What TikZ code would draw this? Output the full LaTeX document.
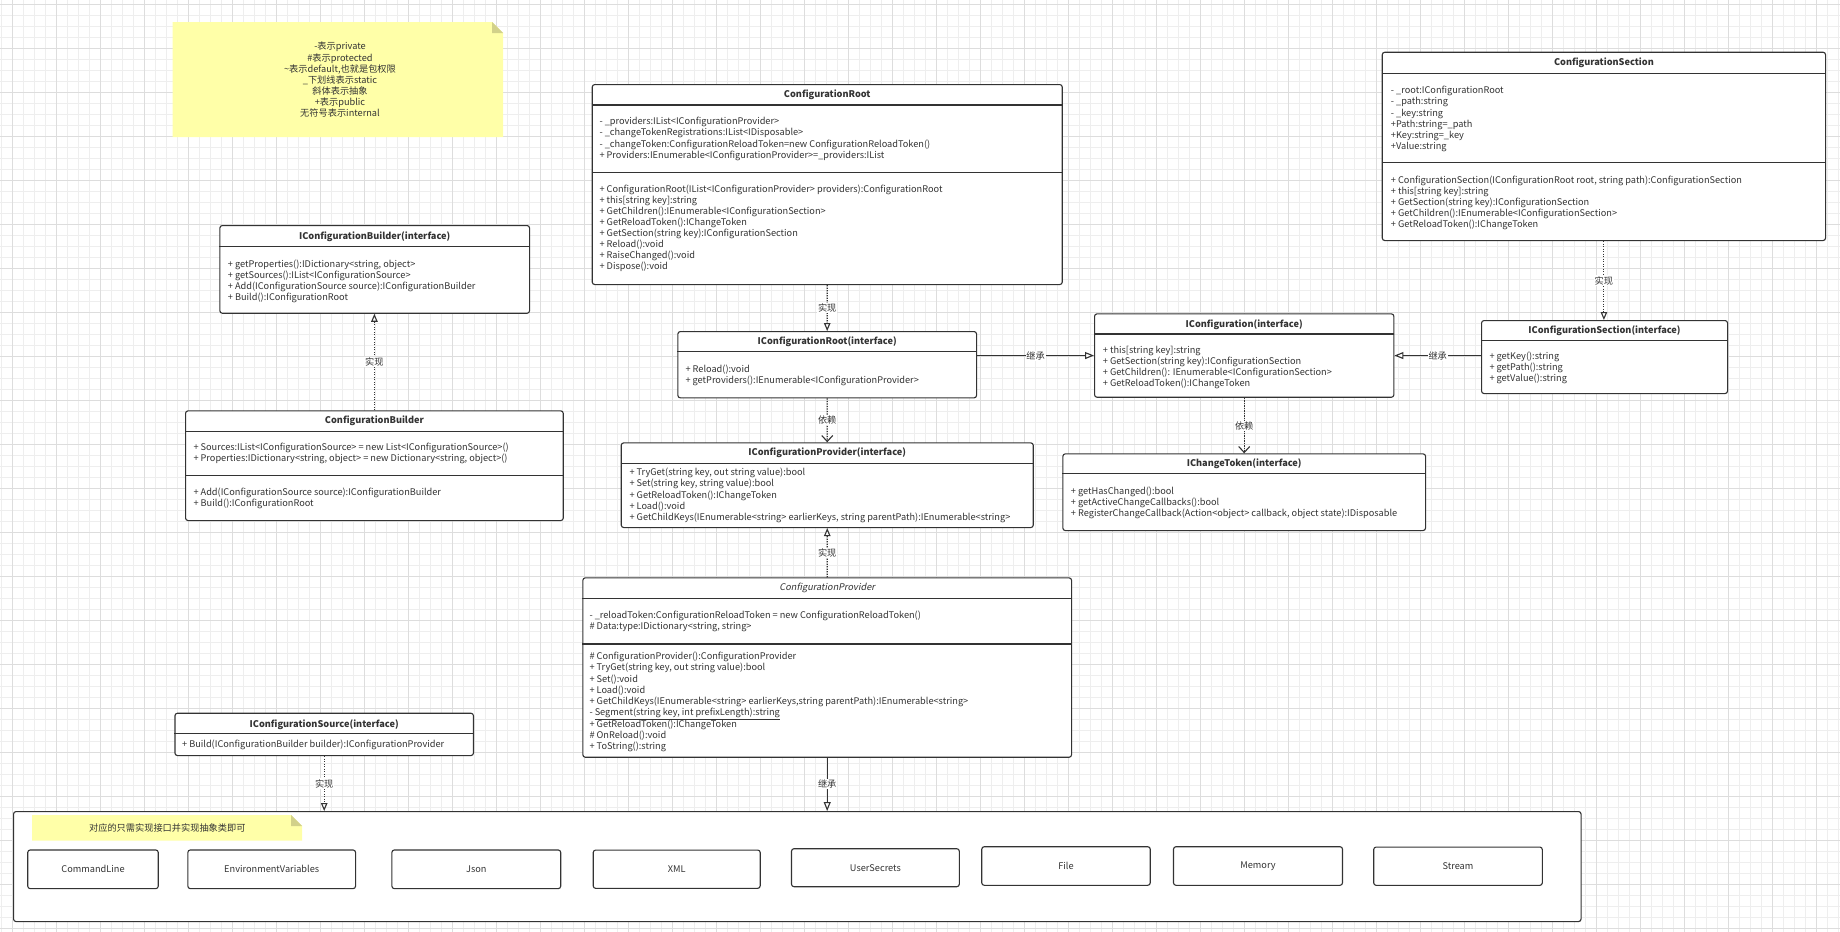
\documentclass[tikz,border=0pt]{standalone}
\usepackage{fontspec}
\setmainfont{Noto Sans CJK SC}[ItalicFont={Noto Sans CJK SC},ItalicFeatures={FakeSlant=0.2}]
\usetikzlibrary{arrows.meta,calc}
\definecolor{linec}{HTML}{333333}
\definecolor{txtc}{HTML}{333333}
\definecolor{notey}{HTML}{FFFFA8}
\definecolor{notef}{HTML}{D2D18A}
\definecolor{gridmin}{HTML}{EEEEEE}
\definecolor{gridmaj}{HTML}{DDDDDD}
\tikzset{
  box/.style={draw=linec, line width=1.1pt, rounded corners=2.5pt, fill=white, inner sep=0pt, anchor=north west},
  sepl/.style={draw=linec, line width=1.1pt},
  ttl/.style={anchor=base, inner sep=0pt, font=\fontsize{9.2}{11.1}\selectfont\bfseries, text=txtc},
  txt/.style={anchor=north west, inner sep=0pt, font=\fontsize{9.2}{11.1}\selectfont, text=txtc},
  lbl/.style={fill=white, inner sep=0.8pt, font=\fontsize{9.2}{11}\selectfont, text=txtc},
  conn/.style={draw=linec, line width=1.1pt},
  real/.style={conn, dash pattern=on 1.2pt off 1.3pt, -{Triangle[length=8pt, width=6.5pt, fill=white]}},
  dep/.style={conn, dash pattern=on 1.2pt off 1.3pt, -{Straight Barb[length=6pt, width=11pt]}},
  inh/.style={conn, -{Triangle[length=9pt, width=7pt, fill=white]}},
  ibox/.style={draw=linec, line width=1.1pt, rounded corners=2.5pt, fill=white, inner sep=0pt, font=\fontsize{9.2}{11}\selectfont, text=txtc},
  notetxt/.style={anchor=north, inner sep=0pt, font=\fontsize{9.2}{11.17}\selectfont, text=txtc},
}
\newcommand\umlbox[5]{\node[box, minimum width={(#4)-(#2)}, minimum height={(#5)-(#3)}] (#1) at (#2,#3) {};}
\newcommand\usep[2]{\draw[sepl] (#1.west |- 0,#2) -- (#1.east |- 0,#2);}
\newcommand\utitle[3]{\node[ttl] (#1-t) at (#1.center |- 0,{#2+3}) {#3};}
\newcommand\ulines[4]{\node[txt] (#1) at ({#2},{#3-4.8}) {\begin{tabular}{@{}l@{}}#4\end{tabular}};}
\begin{document}
\begin{tikzpicture}[x=1pt, y=-1pt]
\useasboundingbox (0,0) rectangle (1840,932);
\fill[white] (0,0) rectangle (1840,932);
% grid
\foreach \i in {0,...,167} \draw[gridmin, line width=0.8pt] ({1.5+11*\i},0) -- ({1.5+11*\i},932);
\foreach \i in {0,...,84} \draw[gridmin, line width=0.8pt] (0,{4+11*\i}) -- (1840,{4+11*\i});
\foreach \i in {0,...,41} \draw[gridmaj, line width=0.9pt] ({12.5+44*\i},0) -- ({12.5+44*\i},932);
\foreach \i in {0,...,21} \draw[gridmaj, line width=0.9pt] (0,{4+44*\i}) -- (1840,{4+44*\i});

% legend note
\fill[notey] (172.7,22) -- (492,22) -- (503,33) -- (503,137) -- (172.7,137) -- cycle;
\fill[notef] (492,22) -- (492,33) -- (503,33) -- cycle;
\node[notetxt] (legend) at (340,{46.7-4.8}) {\begin{tabular}{@{}c@{}}-表示private\\ \#表示protected\\ \textasciitilde 表示default,也就是包权限\\ \_下划线表示static\\ 斜体表示抽象\\ +表示public\\ 无符号表示internal\end{tabular}};

% IConfigurationBuilder
\umlbox{icb}{219.3}{225}{529}{312.7}
\usep{icb}{246.7}
\utitle{icb}{236}{IConfigurationBuilder(interface)}
\ulines{icb-m}{227.7}{264}{+ getProperties():IDictionary<string, object>\\ + getSources():IList<IConfigurationSource>\\ + Add(IConfigurationSource source):IConfigurationBuilder\\ + Build():IConfigurationRoot}

% ConfigurationBuilder
\umlbox{cb}{185}{410.3}{562.7}{520}
\usep{cb}{431.7}
\usep{cb}{475.7}
\utitle{cb}{420.7}{ConfigurationBuilder}
\ulines{cb-a}{193.3}{447.3}{+ Sources:IList<IConfigurationSource> = new List<IConfigurationSource>()\\ + Properties:IDictionary<string, object> = new Dictionary<string, object>()}
\ulines{cb-m}{193.3}{492.7}{+ Add(IConfigurationSource source):IConfigurationBuilder\\ + Build():IConfigurationRoot}

% ConfigurationRoot
\umlbox{cr}{591.7}{84}{1061.7}{284}
\usep{cr}{105}
\usep{cr}{172.7}
\utitle{cr}{94}{ConfigurationRoot}
\ulines{cr-a}{599.3}{121.7}{- \_providers:IList<IConfigurationProvider>\\ - \_changeTokenRegistrations:IList<IDisposable>\\ - \_changeToken:ConfigurationReloadToken=new ConfigurationReloadToken()\\ + Providers:IEnumerable<IConfigurationProvider>=\_providers:IList}
\ulines{cr-m}{599.3}{189}{+ ConfigurationRoot(IList<IConfigurationProvider> providers):ConfigurationRoot\\ + this[string key]:string\\ + GetChildren():IEnumerable<IConfigurationSection>\\ + GetReloadToken():IChangeToken\\ + GetSection(string key):IConfigurationSection\\ + Reload():void\\ + RaiseChanged():void\\ + Dispose():void}

% IConfigurationRoot
\umlbox{icr}{677.3}{331}{976}{397.3}
\usep{icr}{351.7}
\utitle{icr}{341}{IConfigurationRoot(interface)}
\ulines{icr-m}{685.3}{369}{+ Reload():void\\ + getProviders():IEnumerable<IConfigurationProvider>}

% IConfigurationProvider
\umlbox{icp}{620.7}{442.3}{1032.7}{527}
\usep{icp}{463.3}
\utitle{icp}{452.3}{IConfigurationProvider(interface)}
\ulines{icp-m}{629.3}{472.7}{+ TryGet(string key, out string value):bool\\ + Set(string key, string value):bool\\ + GetReloadToken():IChangeToken\\ + Load():void\\ + GetChildKeys(IEnumerable<string> earlierKeys, string parentPath):IEnumerable<string>}

% IConfiguration
\umlbox{ic}{1094}{313.3}{1393.3}{396.7}
\usep{ic}{334}
\utitle{ic}{324}{IConfiguration(interface)}
\ulines{ic-m}{1102.7}{350}{+ this[string key]:string\\ + GetSection(string key):IConfigurationSection\\ + GetChildren(): IEnumerable<IConfigurationSection>\\ + GetReloadToken():IChangeToken}

% IChangeToken
\umlbox{ict}{1062.3}{453.3}{1425}{530}
\usep{ict}{473.7}
\utitle{ict}{463.3}{IChangeToken(interface)}
\ulines{ict-m}{1070.7}{491}{+ getHasChanged():bool\\ + getActiveChangeCallbacks():bool\\ + RegisterChangeCallback(Action<object> callback, object state):IDisposable}

% IConfigurationSection
\umlbox{isec}{1481}{320}{1727}{393}
\usep{isec}{340.7}
\utitle{isec}{330.3}{IConfigurationSection(interface)}
\ulines{isec-m}{1489.3}{356.3}{+ getKey():string\\ + getPath():string\\ + getValue():string}

% ConfigurationSection
\umlbox{cs}{1381.7}{51.7}{1825}{240}
\usep{cs}{73.3}
\usep{cs}{162.7}
\utitle{cs}{62.7}{ConfigurationSection}
\ulines{cs-a}{1390.7}{90.7}{- \_root:IConfigurationRoot\\ - \_path:string\\ - \_key:string\\ +Path:string=\_path\\ +Key:string=\_key\\ +Value:string}
\ulines{cs-m}{1390.7}{180}{+ ConfigurationSection(IConfigurationRoot root, string path):ConfigurationSection\\ + this[string key]:string\\ + GetSection(string key):IConfigurationSection\\ + GetChildren():IEnumerable<IConfigurationSection>\\ + GetReloadToken():IChangeToken}

% ConfigurationProvider
\umlbox{cp}{582.3}{577.3}{1071}{756.7}
\usep{cp}{598.3}
\usep{cp}{644}
\node[ttl, font=\fontsize{9.2}{11.1}\selectfont\itshape] (cp-t) at (cp.center |- 0,590.7) {ConfigurationProvider};
\ulines{cp-a}{589.3}{615}{- \_reloadToken:ConfigurationReloadToken = new ConfigurationReloadToken()\\ \# Data:type:IDictionary<string, string>}
\ulines{cp-m}{589.3}{656.7}{\# ConfigurationProvider():ConfigurationProvider\\ + TryGet(string key, out string value):bool\\ + Set():void\\ + Load():void\\ + GetChildKeys(IEnumerable<string> earlierKeys,string parentPath):IEnumerable<string>\\ - \underline{Segment(string key, int prefixLength):string}\\ + GetReloadToken():IChangeToken\\ \# OnReload():void\\ + ToString():string}

% IConfigurationSource
\umlbox{isrc}{174.4}{712.7}{472.9}{755}
\usep{isrc}{733.7}
\utitle{isrc}{724}{IConfigurationSource(interface)}
\ulines{isrc-m}{181.9}{744.7}{+ Build(IConfigurationBuilder builder):IConfigurationProvider}

% container
\umlbox{cont}{13}{811}{1580.5}{921}
\fill[notey] (32,815) -- (291.1,815) -- (302.1,826) -- (302.1,840.7) -- (32,840.7) -- cycle;
\fill[notef] (291.1,815) -- (291.1,826) -- (302.1,826) -- cycle;
\node[anchor=base, inner sep=0pt, font=\fontsize{9.2}{11}\selectfont, text=txtc] (note2) at (167.3,831.3) {对应的只需实现接口并实现抽象类即可};
\node[ibox, minimum width=130.5pt, minimum height=38.7pt] (cmd) at (93,869.3) {CommandLine};
\node[ibox, minimum width=167.7pt, minimum height=38.7pt] (env) at (271.7,869.3) {EnvironmentVariables};
\node[ibox, minimum width=168.8pt, minimum height=38.7pt] (json) at (476.3,869.3) {Json};
\node[ibox, minimum width=167pt, minimum height=38.3pt] (xml) at (676.7,869.2) {XML};
\node[ibox, minimum width=167.8pt, minimum height=38pt] (usr) at (875.4,867.7) {UserSecrets};
\node[ibox, minimum width=168.5pt, minimum height=38.6pt] (file) at (1066,866) {File};
\node[ibox, minimum width=169pt, minimum height=38.6pt] (mem) at (1258,866) {Memory};
\node[ibox, minimum width=168.6pt, minimum height=38.3pt] (strm) at (1458,866.2) {Stream};

% connectors
\draw[real] (cb.north) -- node[lbl]{实现} (cb.north |- icb.south);
\draw[real] (cr.south) -- node[lbl]{实现} (icr.north);
\draw[dep] (icr.south) -- node[lbl]{依赖} (icp.north);
\draw[inh] (icr.east |- ic.west) -- node[lbl]{继承} (ic.west);
\draw[dep] (ic.south) -- node[lbl]{依赖} (ict.north);
\draw[inh] (isec.west |- ic.east) -- node[lbl]{继承} (ic.east);
\draw[real] (cs.south) -- node[lbl]{实现} (cs.south |- isec.north);
\draw[real] (cp.north) -- node[lbl]{实现} (icp.south);
\draw[inh] (cp.south) -- node[lbl]{继承} (cp.south |- cont.north);
\draw[real] (isrc.south) -- node[lbl]{实现} (isrc.south |- cont.north);
\end{tikzpicture}
\end{document}
